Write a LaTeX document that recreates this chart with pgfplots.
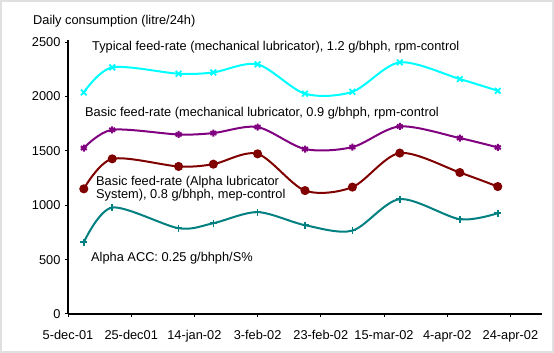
\documentclass[border=0pt]{standalone}
\usepackage{pgfplots}
\pgfplotsset{compat=1.18}
\usepackage{fontspec}
\setmainfont{Liberation Sans}
\definecolor{ccyan}{RGB}{0,255,255}
\definecolor{cpurple}{RGB}{128,0,128}
\definecolor{cred}{RGB}{128,0,0}
\definecolor{cteal}{RGB}{0,128,128}
\newcommand{\fs}{\fontsize{12.8}{14}\selectfont}
\begin{document}
\begin{tikzpicture}
\useasboundingbox (0,0) rectangle (554pt,353pt);
\fill[white] (0,0) rectangle (554pt,353pt);
\draw[black!12, line width=2pt] (1pt,1pt) rectangle (553pt,352pt);
\begin{axis}[
  at={(68pt,39pt)}, anchor=south west,
  scale only axis, width=474pt, height=274pt,
  xmin=0, xmax=150, ymin=0, ymax=2520,
  axis x line*=bottom, axis y line*=left,
  x axis line style={line width=1.5pt, -},
  y axis line style={line width=2pt, -},
  xtick={0,20,...,140},
  xticklabels={5-dec-01,25-dec01,14-jan-02,3-feb-02,23-feb-02,15-mar-02,4-apr-02,24-apr-02},
  ytick={0,500,...,2500},
  tick align=outside, major tick length=3pt,
  tick style={black, line width=1pt},
  ticklabel style={font=\fs},
  /pgf/number format/assume math mode=true,
  /pgf/number format/1000 sep={},
  yticklabel style={xshift=-1pt},
  xticklabel style={yshift=-10pt},
  clip=false,
]
\addplot[ccyan, line width=2pt, smooth, mark=x, mark size=4pt, mark options={line width=1.8pt}]
  coordinates {(5,2038) (14,2268) (35,2210) (46,2222) (60,2296) (75,2026) (90,2044) (105,2314) (124,2161) (136,2053)};
\addplot[cpurple, line width=2pt, smooth, mark=asterisk, mark size=3.5pt, mark options={line width=2pt}]
  coordinates {(5,1526) (14,1694) (35,1651) (46,1664) (60,1719) (75,1517) (90,1535) (105,1725) (124,1618) (136,1532)};
\addplot[cred, line width=2pt, smooth, mark=*, mark size=3.5pt]
  coordinates {(5,1151) (14,1427) (35,1357) (46,1378) (60,1473) (75,1135) (90,1167) (105,1480) (124,1301) (136,1172)};
\addplot[cteal, line width=2pt, smooth, mark=+, mark size=3.5pt, mark options={line width=1.5pt}]
  coordinates {(5,660) (14,979) (35,789) (46,835) (60,937) (75,817) (90,767) (105,1056) (124,872) (136,927)};
\end{axis}
\node[anchor=west, inner sep=0, font=\fs] at (33pt,332pt) {Daily consumption (litre/24h)};
\node[anchor=west, inner sep=0, font=\fs] at (92pt,306pt) {Typical feed-rate (mechanical lubricator), 1.2 g/bhph, rpm-control};
\node[anchor=west, inner sep=0, font=\fs] at (85pt,240pt) {Basic feed-rate (mechanical lubricator, 0.9 g/bhph, rpm-control};
\node[anchor=west, inner sep=0, font=\fs] at (96pt,171pt) {Basic feed-rate (Alpha lubricator};
\node[anchor=west, inner sep=0, font=\fs] at (96pt,158pt) {System), 0.8 g/bhph, mep-control};
\node[anchor=west, inner sep=0, font=\fs] at (91pt,95pt) {Alpha ACC: 0.25 g/bhph/S\%};
\end{tikzpicture}
\end{document}
